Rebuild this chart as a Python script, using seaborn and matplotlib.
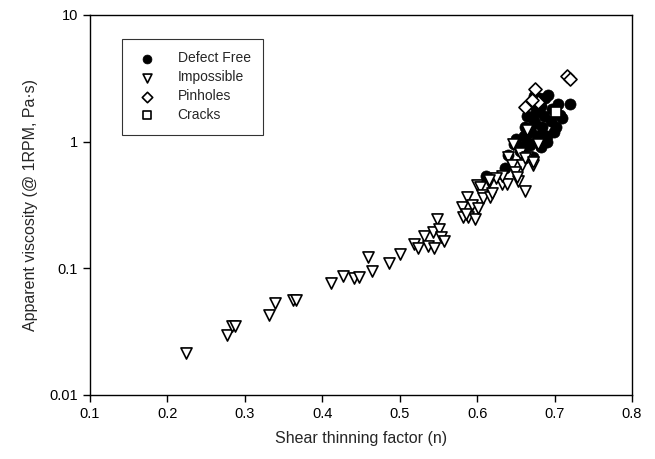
import matplotlib
matplotlib.use("Agg")
import matplotlib.pyplot as plt
import seaborn as sns
import pandas as pd
from matplotlib.ticker import FixedLocator, FixedFormatter, NullLocator

# ---- data ----
defect_free_n = [0.612, 0.636, 0.640, 0.648, 0.650, 0.655, 0.657, 0.660, 0.662, 0.665,
                 0.668, 0.670, 0.672, 0.672, 0.675, 0.676, 0.678, 0.680, 0.682, 0.684,
                 0.686, 0.688, 0.690, 0.692, 0.695, 0.697, 0.699, 0.7015, 0.705, 0.707,
                 0.710, 0.720, 0.664, 0.668, 0.673, 0.690, 0.660, 0.683]
defect_free_v = [0.54, 0.62, 0.78, 0.95, 1.05, 0.85, 0.91, 1.10, 1.30, 1.00,
                 0.94, 1.20, 0.76, 1.50, 1.40, 1.70, 1.10, 2.20, 1.90, 1.30,
                 1.60, 2.20, 1.00, 2.33, 1.45, 1.80, 1.20, 1.31, 2.00, 1.62,
                 1.55, 2.00, 1.60, 2.00, 2.30, 1.10, 0.80, 0.90]

impossible_n = [0.224, 0.2765, 0.283, 0.2877, 0.331, 0.339, 0.3626, 0.366, 0.411, 0.427,
                0.441, 0.447, 0.459, 0.4646, 0.4866, 0.5004, 0.519, 0.524, 0.531, 0.537,
                0.5447, 0.5434, 0.5478, 0.551, 0.553, 0.5576, 0.580, 0.582, 0.5865, 0.5886,
                0.593, 0.597, 0.6007, 0.5994, 0.6037, 0.606, 0.607, 0.6166, 0.619, 0.6157,
                0.6317, 0.638, 0.653, 0.6618, 0.6467, 0.677, 0.655, 0.640, 0.664, 0.6725,
                0.6446, 0.6575, 0.6489, 0.6317, 0.625, 0.651, 0.615, 0.679, 0.6618, 0.672,
                0.664, 0.585]
impossible_v = [0.0216, 0.0298, 0.0351, 0.035, 0.043, 0.053, 0.056, 0.056, 0.077, 0.0874,
                0.0843, 0.085, 0.1235, 0.0958, 0.111, 0.130, 0.155, 0.146, 0.180, 0.150,
                0.144, 0.192, 0.244, 0.203, 0.176, 0.165, 0.306, 0.255, 0.367, 0.255,
                0.316, 0.244, 0.298, 0.454, 0.440, 0.379, 0.360, 0.367, 0.390, 0.483,
                0.463, 0.463, 0.490, 0.410, 0.957, 0.957, 0.809, 0.760, 0.760, 0.653,
                0.653, 0.653, 0.579, 0.535, 0.520, 0.530, 0.500, 0.960, 0.740, 0.690,
                1.240, 0.270]

pinholes_n = [0.7156, 0.720, 0.6747, 0.679, 0.6705, 0.6618]
pinholes_v = [3.30, 3.15, 2.59, 2.07, 2.14, 1.89]

cracks_n = [0.7015]
cracks_v = [1.72]

categories = ["Defect Free", "Impossible", "Pinholes", "Cracks"]

sns.set_style("ticks")
plt.rcParams['font.family'] = ['Liberation Sans', 'DejaVu Sans']

fig = plt.figure(figsize=(6.55, 4.59), dpi=100)
ax = fig.add_axes([90/655, 64/459, (632-90)/655, (395-15)/459])

sns.scatterplot(x=defect_free_n, y=defect_free_v, ax=ax, marker='o', s=64,
                color='black', edgecolor='black', linewidth=0.5, label=categories[0], zorder=3)
sns.scatterplot(x=impossible_n, y=impossible_v, ax=ax, marker='v', s=64,
                facecolor='white', edgecolor='black', linewidth=1.2, label=categories[1], zorder=4)
sns.scatterplot(x=pinholes_n, y=pinholes_v, ax=ax, marker='D', s=44,
                facecolor='white', edgecolor='black', linewidth=1.2, label=categories[2], zorder=5)
sns.scatterplot(x=cracks_n, y=cracks_v, ax=ax, marker='s', s=52,
                facecolor='white', edgecolor='black', linewidth=1.2, label=categories[3], zorder=5)

ax.set_yscale('log')
ax.set_xlim(0.1, 0.8)
ax.set_ylim(0.01, 10)
ax.xaxis.set_major_locator(FixedLocator([0.1, 0.2, 0.3, 0.4, 0.5, 0.6, 0.7, 0.8]))
ax.set_xticklabels(["0.1", "0.2", "0.3", "0.4", "0.5", "0.6", "0.7", "0.8"])
ax.yaxis.set_major_locator(FixedLocator([0.01, 0.1, 1, 10]))
ax.yaxis.set_major_formatter(FixedFormatter(["0.01", "0.1", "1", "10"]))
ax.yaxis.set_minor_locator(NullLocator())

for sp in ax.spines.values():
    sp.set_visible(True)
    sp.set_color('black')
    sp.set_linewidth(1.0)
ax.tick_params(axis='both', direction='out', length=5, width=1, labelsize=10.5, colors='black')

ax.set_xlabel("Shear thinning factor (n)", fontsize=11.5, labelpad=7)
ax.set_ylabel("Apparent viscosity (@ 1RPM, Pa·s)", fontsize=11.5, labelpad=8)

leg = ax.legend(loc='upper left', bbox_to_anchor=((122-90)/542, 1 - (39-15)/380),
                frameon=True, fancybox=False, shadow=False, fontsize=10,
                labelspacing=0.35, handletextpad=1.3, borderpad=0.9,
                borderaxespad=0, markerscale=0.8, handlelength=1.8)
leg.get_frame().set_edgecolor('black')
leg.get_frame().set_linewidth(0.8)

fig.savefig("out.png", dpi=100)
